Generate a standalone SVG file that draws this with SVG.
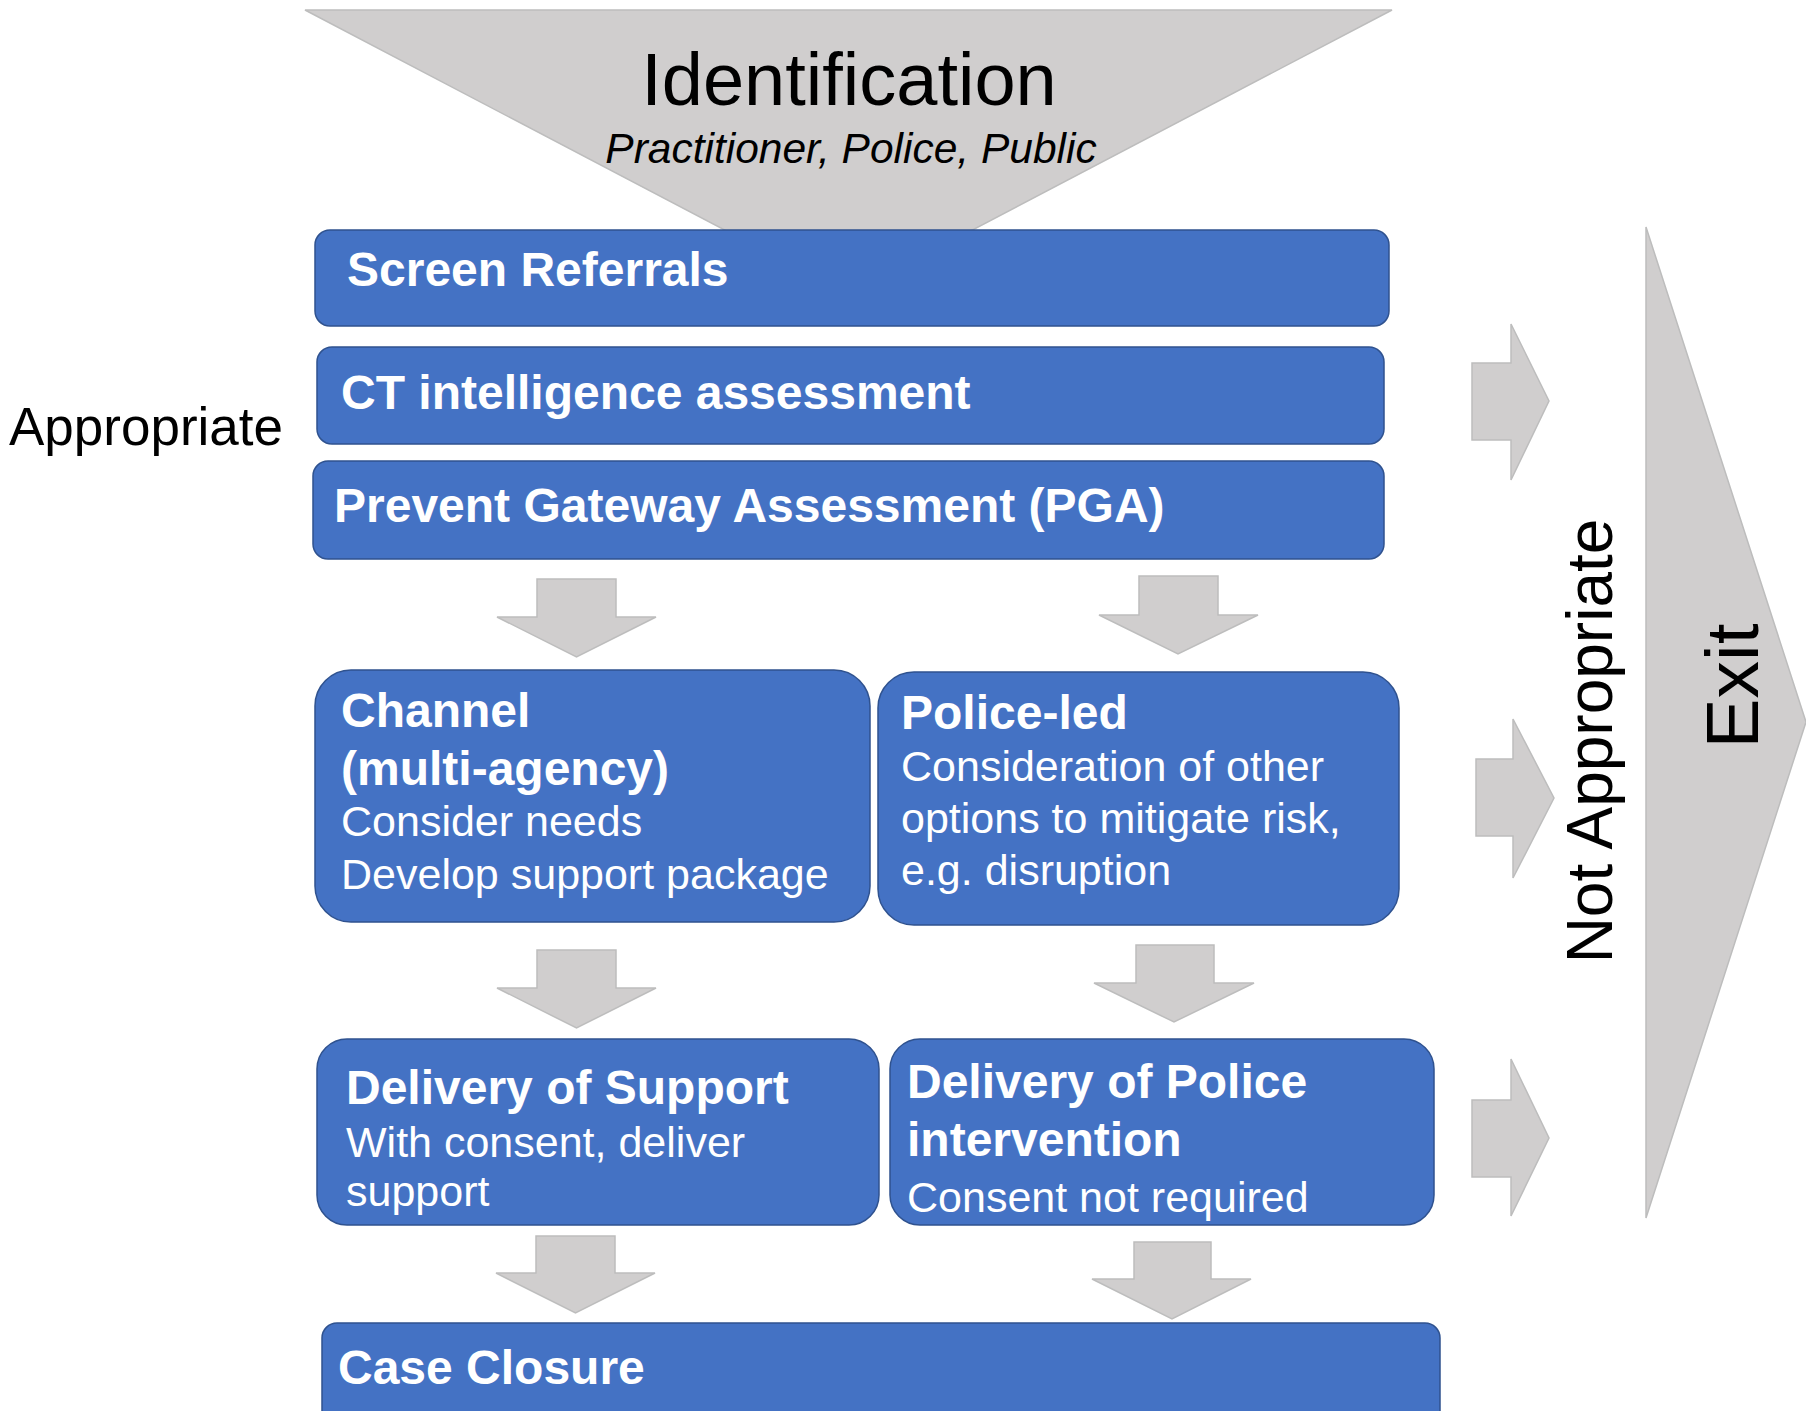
<svg xmlns="http://www.w3.org/2000/svg" width="1806" height="1411" viewBox="0 0 1806 1411">
<style>
.box{fill:#4472C4;stroke:#2F528F;stroke-width:1.5}
.arr{fill:#D0CECE;stroke:#BDBDBD;stroke-width:1.5;stroke-linejoin:miter}
.b{font-family:"Liberation Sans",Arial,sans-serif;font-weight:bold;font-size:48px;fill:#FFFFFF}
.r{font-family:"Liberation Sans",Arial,sans-serif;font-size:43px;fill:#FFFFFF}
.k{font-family:"Liberation Sans",Arial,sans-serif;fill:#000000}
</style>
<rect width="1806" height="1411" fill="#FFFFFF"/>
<g id="identification">
<polygon class="arr" points="305,10 1392,10 848.5,295"/>
<text class="k" x="849" y="105" font-size="74" text-anchor="middle">Identification</text>
<text class="k" x="851" y="163" font-size="42.5" font-style="italic" text-anchor="middle">Practitioner, Police, Public</text>
</g>
<g id="exit">
<polygon class="arr" points="1646,227 1806,722 1646,1218"/>
<text class="k" font-size="75" text-anchor="middle" transform="translate(1758,686) rotate(-90)">Exit</text>
</g>
<g id="not-appropriate">
<text class="k" font-size="64" text-anchor="middle" transform="translate(1612,741) rotate(-90)">Not Appropriate</text>
</g>
<g id="appropriate">
<text class="k" x="9" y="445" font-size="53">Appropriate</text>
</g>
<g id="connectors">
<polygon class="arr" points="537,579 616,579 616,617 656,617 576.5,657 497,617 537,617"/>
<polygon class="arr" points="1139,576 1218,576 1218,615 1258,615 1178,654 1099,615 1139,615"/>
<polygon class="arr" points="537,950 616,950 616,988 656,988 576.5,1028 497,988 537,988"/>
<polygon class="arr" points="1136,945 1214,945 1214,983 1254,983 1174,1022 1094,983 1136,983"/>
<polygon class="arr" points="536,1236 615,1236 615,1273 655,1273 575.5,1313 496,1273 536,1273"/>
<polygon class="arr" points="1134,1242 1211,1242 1211,1279 1251,1279 1172,1319 1092,1279 1134,1279"/>
<polygon class="arr" points="1472,363 1511,363 1511,324 1549,401 1511,480 1511,440 1472,440"/>
<polygon class="arr" points="1476,759 1513,759 1513,719 1554,798 1513,878 1513,836 1476,836"/>
<polygon class="arr" points="1472,1100 1511,1100 1511,1059 1549,1138 1511,1216 1511,1177 1472,1177"/>
</g>
<g id="screen-referrals">
<rect class="box" x="315" y="230" width="1074" height="96" rx="15"/>
<text class="b" x="347" y="286">Screen Referrals</text>
</g>
<g id="ct-intelligence">
<rect class="box" x="317" y="347" width="1067" height="97" rx="15"/>
<text class="b" x="341" y="409">CT intelligence assessment</text>
</g>
<g id="pga">
<rect class="box" x="313" y="461" width="1071" height="98" rx="15"/>
<text class="b" x="334" y="522">Prevent Gateway Assessment (PGA)</text>
</g>
<g id="channel">
<rect class="box" x="315" y="670" width="555" height="252" rx="36"/>
<text class="b" x="341" y="727">Channel</text>
<text class="b" x="341" y="785">(multi-agency)</text>
<text class="r" x="341" y="836">Consider needs</text>
<text class="r" x="341" y="889">Develop support package</text>
</g>
<g id="police-led">
<rect class="box" x="878" y="672" width="521" height="253" rx="36"/>
<text class="b" x="901" y="729">Police-led</text>
<text class="r" x="901" y="781">Consideration of other</text>
<text class="r" x="901" y="833">options to mitigate risk,</text>
<text class="r" x="901" y="885">e.g. disruption</text>
</g>
<g id="delivery-support">
<rect class="box" x="317" y="1039" width="562" height="186" rx="30"/>
<text class="b" x="346" y="1104">Delivery of Support</text>
<text class="r" x="346" y="1157">With consent, deliver</text>
<text class="r" x="346" y="1206">support</text>
</g>
<g id="delivery-police">
<rect class="box" x="890" y="1039" width="544" height="186" rx="30"/>
<text class="b" x="907" y="1098">Delivery of Police</text>
<text class="b" x="907" y="1156">intervention</text>
<text class="r" x="907" y="1212">Consent not required</text>
</g>
<g id="case-closure">
<rect class="box" x="322" y="1323" width="1118" height="120" rx="15"/>
<text class="b" x="338" y="1384">Case Closure</text>
</g>
</svg>
